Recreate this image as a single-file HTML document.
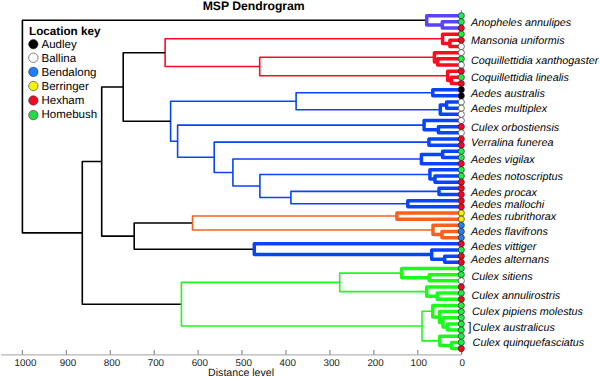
<!DOCTYPE html>
<html><head><meta charset="utf-8"><style>
html,body{margin:0;padding:0;background:#fff;}
body{width:600px;height:377px;overflow:hidden;}
svg{display:block;}
text{font-family:"Liberation Sans",sans-serif;text-rendering:geometricPrecision;}
</style></head><body>
<svg width="600" height="377" viewBox="0 0 600 377">
<rect width="600" height="377" fill="#fff"/>
<text x="253.7" y="9.5" text-anchor="middle" font-weight="bold" font-size="12.2" fill="#000">MSP Dendrogram</text>
<line x1="461.5" y1="10" x2="461.5" y2="354" stroke="#888" stroke-width="0.8"/>
<line x1="1" y1="354.9" x2="461.75" y2="354.9" stroke="#b4b4b4" stroke-width="1.4"/>
<line x1="461.75" y1="350" x2="461.75" y2="354.5" stroke="#555" stroke-width="0.8"/>
<line x1="417.81" y1="350" x2="417.81" y2="354.5" stroke="#555" stroke-width="0.8"/>
<line x1="373.87" y1="350" x2="373.87" y2="354.5" stroke="#555" stroke-width="0.8"/>
<line x1="329.93" y1="350" x2="329.93" y2="354.5" stroke="#555" stroke-width="0.8"/>
<line x1="285.99" y1="350" x2="285.99" y2="354.5" stroke="#555" stroke-width="0.8"/>
<line x1="242.05" y1="350" x2="242.05" y2="354.5" stroke="#555" stroke-width="0.8"/>
<line x1="198.11" y1="350" x2="198.11" y2="354.5" stroke="#555" stroke-width="0.8"/>
<line x1="154.17" y1="350" x2="154.17" y2="354.5" stroke="#555" stroke-width="0.8"/>
<line x1="110.23" y1="350" x2="110.23" y2="354.5" stroke="#555" stroke-width="0.8"/>
<line x1="66.29" y1="350" x2="66.29" y2="354.5" stroke="#555" stroke-width="0.8"/>
<line x1="22.35" y1="350" x2="22.35" y2="354.5" stroke="#555" stroke-width="0.8"/>
<g fill="#222" font-size="9.8" text-anchor="middle"><text x="462.35" y="365.9">0</text>
<text x="418.71" y="365.9">100</text>
<text x="375.57" y="365.9">200</text>
<text x="331.63" y="365.9">300</text>
<text x="287.69" y="365.9">400</text>
<text x="243.75" y="365.9">500</text>
<text x="199.81" y="365.9">600</text>
<text x="155.87" y="365.9">700</text>
<text x="111.93" y="365.9">800</text>
<text x="67.99" y="365.9">900</text>
<text x="25.5" y="365.9">1000</text></g>
<text x="241.1" y="376.0" text-anchor="middle" font-size="10.6" fill="#111">Distance level</text>
<path d="M434.4 57.31H259.7V75.81H447.7M442.6 38.82H165.1V66.56H259.7" stroke="#ff0a1e" stroke-width="1.6" fill="none" stroke-linejoin="round" stroke-linecap="butt"/>
<path d="M432.8 92.76H296.1V109.72H440.3M439 191.4H290.9V203.73H407.8M429.9 174.45H259.9V197.57H290.9M421.4 159.04H232.9V186.01H259.9M428.9 142.08H214.2V172.52H232.9M424.1 125.13H177.6V157.3H214.2M296.1 101.24H170.6V141.22H177.6" stroke="#0a44fa" stroke-width="1.6" fill="none" stroke-linejoin="round" stroke-linecap="butt"/>
<path d="M165.1 52.69H123.2V121.23H170.6M192.5 223H134.2V249.2H254.3M123.2 86.96H101.7V236.1H134.2M101.7 161.53H82.3V304.2H181.4M426.7 20.32H22.4V232.87H82.3" stroke="#000000" stroke-width="1.6" fill="none" stroke-linejoin="round" stroke-linecap="butt"/>
<path d="M396.9 216.06H192.5V229.93H433" stroke="#fa5f22" stroke-width="1.6" fill="none" stroke-linejoin="round" stroke-linecap="butt"/>
<path d="M401.7 273.09H339.7V291.58H426.7M432.8 311.23H422V340.9H439.8M339.7 282.34H181.4V326.07H422" stroke="#1cfa1c" stroke-width="1.6" fill="none" stroke-linejoin="round" stroke-linecap="butt"/>
<path d="M461.3 21.86H442.3V28.03H461.3M461.3 15.7H426.7V24.95H442.3" stroke="#5b42fb" stroke-width="3.5" fill="none" stroke-linejoin="round" stroke-linecap="butt"/>
<path d="M461.3 40.36H449.9V46.52H461.3M461.3 34.2H442.6V43.44H449.9M461.3 58.86H437.6V65.02H461.3M461.3 52.69H434.4V61.94H437.6M461.3 77.35H451.4V83.52H461.3M461.3 71.19H447.7V80.43H451.4" stroke="#ff0a1e" stroke-width="3.5" fill="none" stroke-linejoin="round" stroke-linecap="butt"/>
<path d="M461.3 89.68H432.8V95.84H461.3M461.3 102.01H446.6V108.17H461.3M446.6 105.09H440.3V114.34H461.3M461.3 126.67H438.4V132.84H461.3M461.3 120.51H424.1V129.75H438.4M461.3 139H428.9V145.16H461.3M461.3 151.33H442.6V157.49H461.3M442.6 154.41H421.4V163.66H461.3M461.3 175.99H435V182.16H461.3M461.3 169.82H429.9V179.07H435M461.3 188.32H439V194.48H461.3M461.3 200.65H407.8V206.81H461.3M461.3 256.13H444.7V262.3H461.3M461.3 249.97H431.7V259.22H444.7M461.3 243.8H254.3V254.59H431.7" stroke="#0a44fa" stroke-width="3.5" fill="none" stroke-linejoin="round" stroke-linecap="butt"/>
<path d="M461.3 212.98H396.9V219.14H461.3M461.3 231.47H442V237.64H461.3M461.3 225.31H433V234.56H442" stroke="#fa5f22" stroke-width="3.5" fill="none" stroke-linejoin="round" stroke-linecap="butt"/>
<path d="M461.3 274.63H429.2V280.8H461.3M461.3 268.47H401.7V277.71H429.2M461.3 293.12H437.3V299.29H461.3M461.3 286.96H426.7V296.21H437.3M461.3 323.95H447.5V330.12H461.3M461.3 317.78H443V327.03H447.5M461.3 311.62H439.5V322.41H443M461.3 305.45H432.8V317.01H439.5M461.3 342.44H451.6V348.61H461.3M461.3 336.28H439.8V345.53H451.6" stroke="#1cfa1c" stroke-width="3.5" fill="none" stroke-linejoin="round" stroke-linecap="butt"/>
<circle cx="461.3" cy="15.7" r="3.1" fill="#22ec44" stroke="#1a1a1a" stroke-width="0.6"/>
<circle cx="461.3" cy="21.86" r="3.1" fill="#22ec44" stroke="#1a1a1a" stroke-width="0.6"/>
<circle cx="461.3" cy="28.03" r="3.1" fill="#f00a22" stroke="#1a1a1a" stroke-width="0.6"/>
<circle cx="461.3" cy="34.2" r="3.1" fill="#22ec44" stroke="#1a1a1a" stroke-width="0.6"/>
<circle cx="461.3" cy="40.36" r="3.1" fill="#f00a22" stroke="#1a1a1a" stroke-width="0.6"/>
<circle cx="461.3" cy="46.52" r="3.1" fill="#ffffff" stroke="#1a1a1a" stroke-width="0.6"/>
<circle cx="461.3" cy="52.69" r="3.1" fill="#ffffff" stroke="#1a1a1a" stroke-width="0.6"/>
<circle cx="461.3" cy="58.86" r="3.1" fill="#22ec44" stroke="#1a1a1a" stroke-width="0.6"/>
<circle cx="461.3" cy="65.02" r="3.1" fill="#ffffff" stroke="#1a1a1a" stroke-width="0.6"/>
<circle cx="461.3" cy="71.19" r="3.1" fill="#f00a22" stroke="#1a1a1a" stroke-width="0.6"/>
<circle cx="461.3" cy="77.35" r="3.1" fill="#22ec44" stroke="#1a1a1a" stroke-width="0.6"/>
<circle cx="461.3" cy="83.52" r="3.1" fill="#f00a22" stroke="#1a1a1a" stroke-width="0.6"/>
<circle cx="461.3" cy="89.68" r="3.1" fill="#000000" stroke="#1a1a1a" stroke-width="0.6"/>
<circle cx="461.3" cy="95.84" r="3.1" fill="#000000" stroke="#1a1a1a" stroke-width="0.6"/>
<circle cx="461.3" cy="102.01" r="3.1" fill="#ffffff" stroke="#1a1a1a" stroke-width="0.6"/>
<circle cx="461.3" cy="108.17" r="3.1" fill="#ffffff" stroke="#1a1a1a" stroke-width="0.6"/>
<circle cx="461.3" cy="114.34" r="3.1" fill="#ffffff" stroke="#1a1a1a" stroke-width="0.6"/>
<circle cx="461.3" cy="120.51" r="3.1" fill="#ffffff" stroke="#1a1a1a" stroke-width="0.6"/>
<circle cx="461.3" cy="126.67" r="3.1" fill="#f00a22" stroke="#1a1a1a" stroke-width="0.6"/>
<circle cx="461.3" cy="132.84" r="3.1" fill="#ffffff" stroke="#1a1a1a" stroke-width="0.6"/>
<circle cx="461.3" cy="139" r="3.1" fill="#f00a22" stroke="#1a1a1a" stroke-width="0.6"/>
<circle cx="461.3" cy="145.16" r="3.1" fill="#f00a22" stroke="#1a1a1a" stroke-width="0.6"/>
<circle cx="461.3" cy="151.33" r="3.1" fill="#22ec44" stroke="#1a1a1a" stroke-width="0.6"/>
<circle cx="461.3" cy="157.49" r="3.1" fill="#22ec44" stroke="#1a1a1a" stroke-width="0.6"/>
<circle cx="461.3" cy="163.66" r="3.1" fill="#f00a22" stroke="#1a1a1a" stroke-width="0.6"/>
<circle cx="461.3" cy="169.82" r="3.1" fill="#22ec44" stroke="#1a1a1a" stroke-width="0.6"/>
<circle cx="461.3" cy="175.99" r="3.1" fill="#22ec44" stroke="#1a1a1a" stroke-width="0.6"/>
<circle cx="461.3" cy="182.16" r="3.1" fill="#f00a22" stroke="#1a1a1a" stroke-width="0.6"/>
<circle cx="461.3" cy="188.32" r="3.1" fill="#f00a22" stroke="#1a1a1a" stroke-width="0.6"/>
<circle cx="461.3" cy="194.48" r="3.1" fill="#f00a22" stroke="#1a1a1a" stroke-width="0.6"/>
<circle cx="461.3" cy="200.65" r="3.1" fill="#f00a22" stroke="#1a1a1a" stroke-width="0.6"/>
<circle cx="461.3" cy="206.81" r="3.1" fill="#f00a22" stroke="#1a1a1a" stroke-width="0.6"/>
<circle cx="461.3" cy="212.98" r="3.1" fill="#f4f20a" stroke="#1a1a1a" stroke-width="0.6"/>
<circle cx="461.3" cy="219.14" r="3.1" fill="#f4f20a" stroke="#1a1a1a" stroke-width="0.6"/>
<circle cx="461.3" cy="225.31" r="3.1" fill="#1a82ff" stroke="#1a1a1a" stroke-width="0.6"/>
<circle cx="461.3" cy="231.47" r="3.1" fill="#1a82ff" stroke="#1a1a1a" stroke-width="0.6"/>
<circle cx="461.3" cy="237.64" r="3.1" fill="#1a82ff" stroke="#1a1a1a" stroke-width="0.6"/>
<circle cx="461.3" cy="243.8" r="3.1" fill="#f00a22" stroke="#1a1a1a" stroke-width="0.6"/>
<circle cx="461.3" cy="249.97" r="3.1" fill="#22ec44" stroke="#1a1a1a" stroke-width="0.6"/>
<circle cx="461.3" cy="256.13" r="3.1" fill="#f00a22" stroke="#1a1a1a" stroke-width="0.6"/>
<circle cx="461.3" cy="262.3" r="3.1" fill="#f00a22" stroke="#1a1a1a" stroke-width="0.6"/>
<circle cx="461.3" cy="268.47" r="3.1" fill="#22ec44" stroke="#1a1a1a" stroke-width="0.6"/>
<circle cx="461.3" cy="274.63" r="3.1" fill="#22ec44" stroke="#1a1a1a" stroke-width="0.6"/>
<circle cx="461.3" cy="280.8" r="3.1" fill="#ffffff" stroke="#1a1a1a" stroke-width="0.6"/>
<circle cx="461.3" cy="286.96" r="3.1" fill="#f00a22" stroke="#1a1a1a" stroke-width="0.6"/>
<circle cx="461.3" cy="293.12" r="3.1" fill="#22ec44" stroke="#1a1a1a" stroke-width="0.6"/>
<circle cx="461.3" cy="299.29" r="3.1" fill="#f00a22" stroke="#1a1a1a" stroke-width="0.6"/>
<circle cx="461.3" cy="305.45" r="3.1" fill="#22ec44" stroke="#1a1a1a" stroke-width="0.6"/>
<circle cx="461.3" cy="311.62" r="3.1" fill="#22ec44" stroke="#1a1a1a" stroke-width="0.6"/>
<circle cx="461.3" cy="317.78" r="3.1" fill="#22ec44" stroke="#1a1a1a" stroke-width="0.6"/>
<circle cx="461.3" cy="323.95" r="3.1" fill="#22ec44" stroke="#1a1a1a" stroke-width="0.6"/>
<circle cx="461.3" cy="330.12" r="3.1" fill="#22ec44" stroke="#1a1a1a" stroke-width="0.6"/>
<circle cx="461.3" cy="336.28" r="3.1" fill="#22ec44" stroke="#1a1a1a" stroke-width="0.6"/>
<circle cx="461.3" cy="342.44" r="3.1" fill="#22ec44" stroke="#1a1a1a" stroke-width="0.6"/>
<circle cx="461.3" cy="348.61" r="3.1" fill="#f00a22" stroke="#1a1a1a" stroke-width="0.6"/>
<g fill="#000"><text x="29" y="34.6" font-weight="bold" font-size="11.7">Location key</text>
<circle cx="33.35" cy="44.2" r="4.7" fill="#000000" stroke="#333" stroke-width="0.6"/>
<text x="41.5" y="48.4" font-size="11.5">Audley</text>
<circle cx="33.35" cy="57.8" r="4.7" fill="#ffffff" stroke="#333" stroke-width="0.6"/>
<text x="41.5" y="62.4" font-size="11.5">Ballina</text>
<circle cx="33.35" cy="71.9" r="4.7" fill="#1a80ff" stroke="#333" stroke-width="0.6"/>
<text x="41.5" y="76.4" font-size="11.5">Bendalong</text>
<circle cx="33.35" cy="86" r="4.7" fill="#f2f20c" stroke="#333" stroke-width="0.6"/>
<text x="41.5" y="90.4" font-size="11.5">Berringer</text>
<circle cx="33.35" cy="100.5" r="4.7" fill="#f00a22" stroke="#333" stroke-width="0.6"/>
<text x="41.5" y="104.4" font-size="11.5">Hexham</text>
<circle cx="33.35" cy="115.1" r="4.7" fill="#26d848" stroke="#333" stroke-width="0.6"/>
<text x="41.5" y="118.4" font-size="11.5">Homebush</text></g>
<g font-style="italic" font-size="10.8" fill="#000"><text x="471.0" y="25.7">Anopheles annulipes</text>
<text x="471.0" y="44.4">Mansonia uniformis</text>
<text x="471.0" y="63.5">Coquillettidia xanthogaster</text>
<text x="471.0" y="81.4">Coquillettidia linealis</text>
<text x="471.0" y="96.6">Aedes australis</text>
<text x="471.0" y="111.9">Aedes multiplex</text>
<text x="471.0" y="130.9">Culex orbostiensis</text>
<text x="471.0" y="146.4">Verralina funerea</text>
<text x="471.0" y="162.6">Aedes vigilax</text>
<text x="471.0" y="179.8">Aedes notoscriptus</text>
<text x="471.0" y="195.6">Aedes procax</text>
<text x="471.0" y="207.5">Aedes mallochi</text>
<text x="471.0" y="219.9">Aedes rubrithorax</text>
<text x="471.0" y="235.1">Aedes flavifrons</text>
<text x="471.0" y="249.8">Aedes vittiger</text>
<text x="471.0" y="262.6">Aedes alternans</text>
<text x="471.4" y="280.0">Culex sitiens</text>
<text x="471.4" y="299.2">Culex annulirostris</text>
<text x="472.0" y="315.4">Culex pipiens molestus</text>
<text x="472.6" y="331.1">Culex australicus</text>
<text x="472.6" y="346.4">Culex quinquefasciatus</text></g>
<text x="467.9" y="330.8" font-size="12.6" fill="#111">]</text>
</svg>
</body></html>
